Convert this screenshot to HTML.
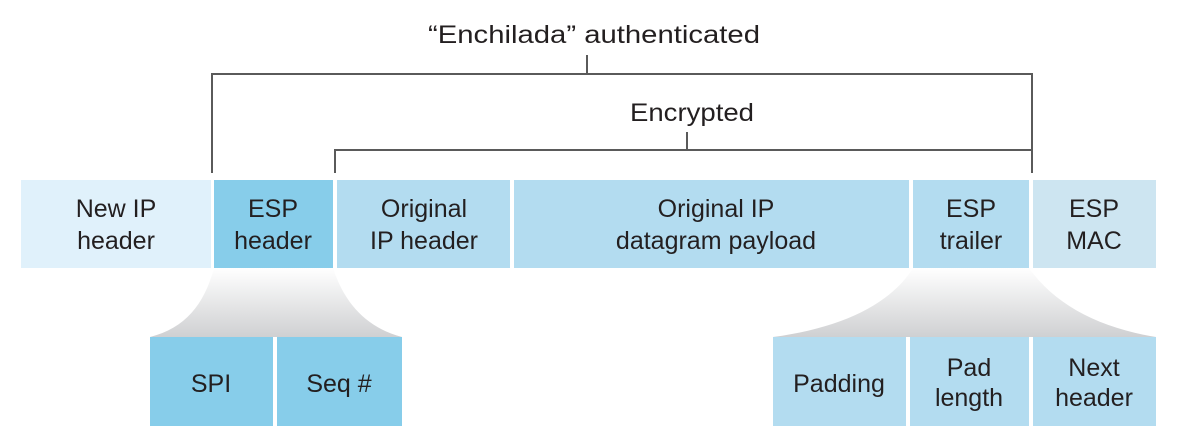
<!DOCTYPE html>
<html><head><meta charset="utf-8"><style>
body{margin:0;background:#fff;}
svg text{font-family:"Liberation Sans","DejaVu Sans",sans-serif;font-size:25px;fill:#231f20;text-anchor:middle;}
</style></head><body>
<svg width="1197" height="442" viewBox="0 0 1197 442" xmlns="http://www.w3.org/2000/svg">
<defs>
<linearGradient id="g" x1="0" y1="0" x2="0" y2="1">
<stop offset="0" stop-color="#ffffff"/><stop offset="1" stop-color="#cfd0d2"/>
</linearGradient>
</defs>
<g stroke="#5a5a5a" stroke-width="2" fill="none">
<path d="M212,173 V74 H1032 V173"/>
<path d="M587,74 V55"/>
<path d="M335,173 V150 H1032"/>
<path d="M687,150 V132"/>
</g>
<text x="594" y="43" textLength="332" lengthAdjust="spacingAndGlyphs">“Enchilada” authenticated</text>
<text x="692" y="121" textLength="124" lengthAdjust="spacingAndGlyphs">Encrypted</text>
<rect x="21" y="180" width="190" height="88" fill="#e0f1fb"/>
<rect x="214" y="180" width="119" height="88" fill="#87cdea"/>
<rect x="337" y="180" width="173" height="88" fill="#b3dcf0"/>
<rect x="514" y="180" width="395" height="88" fill="#b3dcf0"/>
<rect x="913" y="180" width="116" height="88" fill="#b3dcf0"/>
<rect x="1033" y="180" width="123" height="88" fill="#cde5f1"/>
<text x="116" y="217">New IP</text><text x="116" y="249">header</text>
<text x="273" y="217">ESP</text><text x="273" y="249">header</text>
<text x="424" y="217">Original</text><text x="424" y="249">IP header</text>
<text x="716" y="217">Original IP</text><text x="716" y="249">datagram payload</text>
<text x="971" y="217">ESP</text><text x="971" y="249">trailer</text>
<text x="1094" y="217">ESP</text><text x="1094" y="249">MAC</text>
<path d="M214,268 C204,305 185,328 150,337 L402,337 C368,328 345,305 333,268 Z" fill="url(#g)"/>
<path d="M913,268 C890,305 840,328 773,337 L1156,337 C1100,328 1055,305 1029,268 Z" fill="url(#g)"/>
<rect x="150" y="337" width="123" height="89" fill="#87cdea"/>
<rect x="277" y="337" width="125" height="89" fill="#87cdea"/>
<rect x="773" y="337" width="133" height="89" fill="#b3dcf0"/>
<rect x="910" y="337" width="119" height="89" fill="#b3dcf0"/>
<rect x="1033" y="337" width="123" height="89" fill="#b3dcf0"/>
<text x="211" y="392">SPI</text>
<text x="339" y="392">Seq #</text>
<text x="839" y="392">Padding</text>
<text x="969" y="376">Pad</text><text x="969" y="406">length</text>
<text x="1094" y="376">Next</text><text x="1094" y="406">header</text>
</svg>
</body></html>
